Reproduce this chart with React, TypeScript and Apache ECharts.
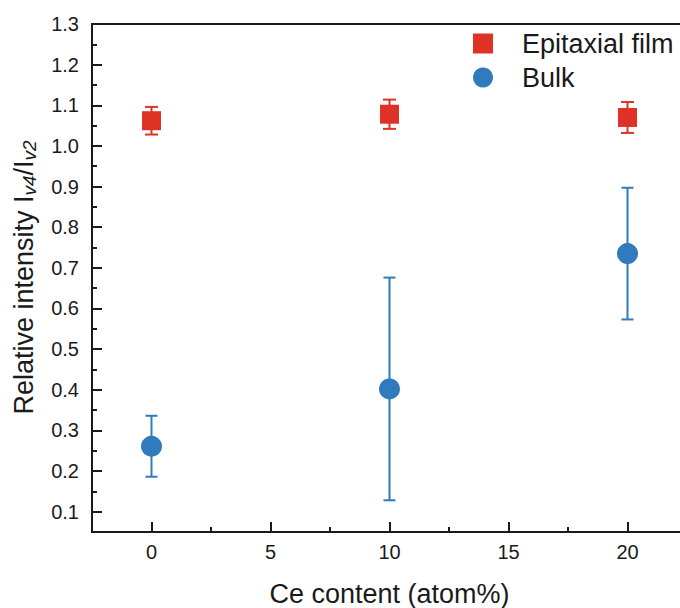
import React, { useEffect, useRef } from "react";
import * as echarts from "echarts";

// Ce content of the samples (atom%)
const ceContent = [0, 10, 20];
// Relative intensity I_v4 / I_v2 and its error
const filmRatio = [1.062, 1.078, 1.07];
const filmError = [0.034, 0.036, 0.038];
const bulkRatio = [0.261, 0.402, 0.735];
const bulkError = [0.075, 0.274, 0.162];

// Axis ticks
const yTickValues = [0.1, 0.2, 0.3, 0.4, 0.5, 0.6, 0.7, 0.8, 0.9, 1.0, 1.1, 1.2, 1.3];
const yMinorValues = [0.15, 0.25, 0.35, 0.45, 0.55, 0.65, 0.75, 0.85, 0.95, 1.05, 1.15, 1.25];
const xTickValues = [0, 5, 10, 15, 20];
const xMinorValues = [2.5, 7.5, 12.5, 17.5];

const FONT = '"Liberation Sans", Arial, Helvetica, sans-serif';
const INK = "#1a1a1a";
const RED = "#de3226";
const BLUE = "#2f7bbd";

const X_MIN = -2.5;
const X_MAX = 22.5;
const Y_MIN = 0.05;
const Y_MAX = 1.3;

function errorBarSeries(values: number[], errors: number[], color: string, capHalf: number) {
  return {
    type: "custom",
    z: 1,
    silent: true,
    data: ceContent.map((x, i) => [x, values[i], errors[i]]),
    renderItem: (params: any, api: any) => {
      const x = api.value(0);
      const y = api.value(1);
      const e = api.value(2);
      const hi = api.coord([x, y + e]);
      const lo = api.coord([x, y - e]);
      const style = { stroke: color, lineWidth: 2 };
      return {
        type: "group",
        children: [
          { type: "line", shape: { x1: hi[0], y1: hi[1], x2: lo[0], y2: lo[1] }, style },
          { type: "line", shape: { x1: hi[0] - capHalf, y1: hi[1], x2: hi[0] + capHalf, y2: hi[1] }, style },
          { type: "line", shape: { x1: lo[0] - capHalf, y1: lo[1], x2: lo[0] + capHalf, y2: lo[1] }, style },
        ],
      };
    },
  };
}

export default function App() {
  const ref = useRef<HTMLDivElement>(null);

  useEffect(() => {
    if (!ref.current) return;
    const chart = echarts.init(ref.current, undefined, { renderer: "svg" });

    const axisLine = { show: true, onZero: false, lineStyle: { color: INK, width: 2 } };
    const tickLine = { color: INK, width: 2 };

    chart.setOption({
      animation: false,
      backgroundColor: "#ffffff",
      textStyle: { fontFamily: FONT },
      // the frame runs on past the right edge of the visible area
      grid: {
        left: 92,
        top: 24,
        right: 3,
        bottom: 76,
        show: true,
        borderColor: INK,
        borderWidth: 2,
        backgroundColor: "transparent",
      },
      legend: {
        orient: "vertical",
        left: 473,
        top: 30,
        padding: 0,
        itemWidth: 20,
        itemHeight: 20,
        itemGap: 7,
        selectedMode: false,
        textStyle: { fontSize: 27, fontFamily: FONT, color: INK, lineHeight: 27, padding: [0, 0, 0, 24] },
        data: [
          { name: "Epitaxial film", icon: "rect" },
          { name: "Bulk", icon: "circle" },
        ],
      },
      xAxis: [
        {
          type: "value",
          min: X_MIN,
          max: X_MAX,
          position: "bottom",
          axisLine,
          axisTick: { show: true, inside: true, length: 10, lineStyle: tickLine, customValues: xTickValues },
          axisLabel: { customValues: xTickValues, fontSize: 20, color: INK, margin: 10, fontFamily: FONT },
          splitLine: { show: false },
        },
        {
          type: "value",
          min: X_MIN,
          max: X_MAX,
          position: "bottom",
          axisLine: { show: false, onZero: false },
          axisTick: { show: true, inside: true, length: 5, lineStyle: tickLine, customValues: xMinorValues },
          axisLabel: { show: false },
          splitLine: { show: false },
        },
      ],
      yAxis: [
        {
          type: "value",
          min: Y_MIN,
          max: Y_MAX,
          position: "left",
          axisLine,
          axisTick: { show: true, inside: true, length: 10, lineStyle: tickLine, customValues: yTickValues },
          axisLabel: {
            customValues: yTickValues,
            fontSize: 20,
            color: INK,
            margin: 13,
            fontFamily: FONT,
            formatter: (v: number) => v.toFixed(1),
          },
          splitLine: { show: false },
        },
        {
          type: "value",
          min: Y_MIN,
          max: Y_MAX,
          position: "left",
          axisLine: { show: false, onZero: false },
          axisTick: { show: true, inside: true, length: 5, lineStyle: tickLine, customValues: yMinorValues },
          axisLabel: { show: false },
          splitLine: { show: false },
        },
      ],
      graphic: [
        {
          type: "text",
          x: 389.5,
          y: 594,
          style: {
            text: "Ce content (atom%)",
            fontSize: 27,
            fontFamily: FONT,
            fill: INK,
            align: "center",
            verticalAlign: "middle",
          },
        },
        {
          type: "text",
          x: 24,
          y: 277.5,
          rotation: Math.PI / 2,
          style: {
            text: "{m|Relative intensity I}{s|v4}{m|/I}{s|v2}",
            fill: INK,
            align: "center",
            verticalAlign: "middle",
            rich: {
              m: { fontSize: 27, fontFamily: FONT, fill: INK },
              s: { fontSize: 19, fontFamily: FONT, fontStyle: "italic", fill: INK, padding: [10, 0, 0, 0] },
            },
          },
        },
      ],
      series: [
        errorBarSeries(filmRatio, filmError, RED, 6.5),
        {
          name: "Epitaxial film",
          type: "scatter",
          z: 3,
          symbol: "rect",
          symbolSize: 19,
          itemStyle: { color: RED, opacity: 1 },
          data: ceContent.map((x, i) => [x, filmRatio[i]]),
        },
        errorBarSeries(bulkRatio, bulkError, BLUE, 6),
        {
          name: "Bulk",
          type: "scatter",
          z: 3,
          symbol: "circle",
          symbolSize: 21,
          itemStyle: { color: BLUE, opacity: 1 },
          data: ceContent.map((x, i) => [x, bulkRatio[i]]),
        },
      ],
    });

    return () => chart.dispose();
  }, []);

  return (
    <div style={{ position: "absolute", left: 0, top: 0, width: 680, height: 608, overflow: "hidden", background: "#ffffff" }}>
      <div ref={ref} style={{ width: 690, height: 608 }} />
    </div>
  );
}
